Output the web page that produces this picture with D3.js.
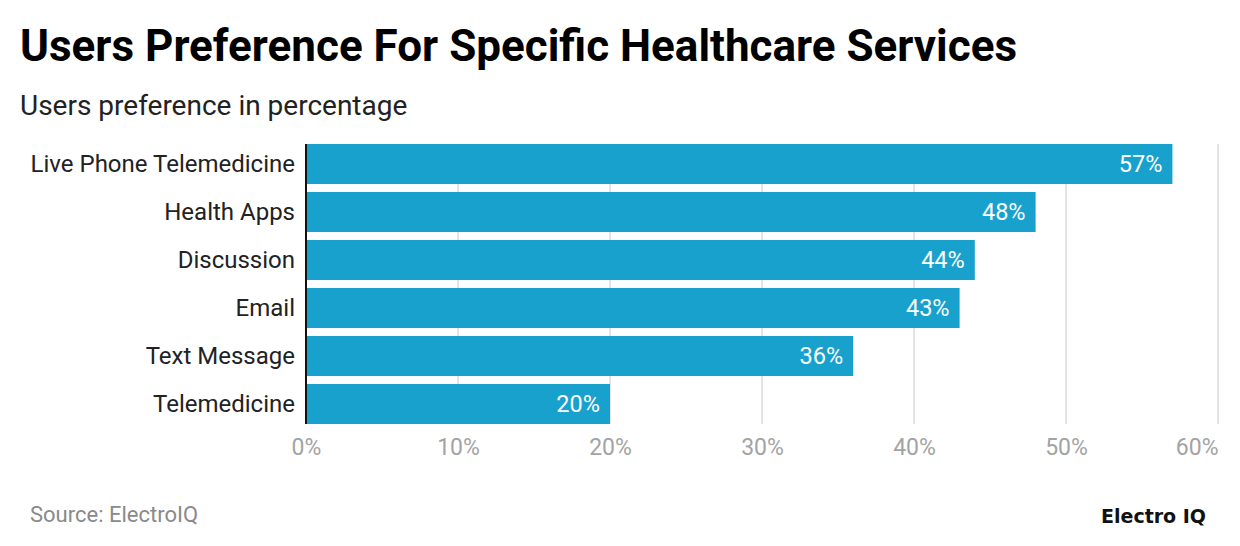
<!DOCTYPE html>
<html>
<head>
<meta charset="utf-8">
<script src="https://cdn.jsdelivr.net/npm/d3@7/dist/d3.min.js"></script>
<style>
  html, body { margin: 0; padding: 0; background: #fff; }
  svg { display: block; font-family: Roboto, "Noto Sans", sans-serif; }
</style>
</head>
<body>
<svg id="chart" width="1240" height="546"></svg>
<script>
// ── data ────────────────────────────────────────────────────────────────
var categories = ['Live Phone Telemedicine', 'Health Apps', 'Discussion',
                  'Email', 'Text Message', 'Telemedicine'];
var values     = [57, 48, 44, 43, 36, 20];
var ticks      = [0, 10, 20, 30, 40, 50, 60];

// ── geometry ────────────────────────────────────────────────────────────
var W = 1240, H = 546;
var plotL = 306, plotR = 1218;
var plotT = 140, plotB = 428;

var svg = d3.select('#chart');

var x = d3.scaleLinear().domain([0, 60]).range([plotL, plotR]);
var y = d3.scaleBand().domain(categories).range([plotT, plotB])
    .paddingInner(8 / 48).paddingOuter(4 / 48);

// title + subtitle
svg.append('text')
    .attr('x', 20).attr('y', 61)
    .attr('font-size', '44px').attr('font-weight', 'bold')
    .attr('fill', '#000')
    .text('Users Preference For Specific Healthcare Services');
svg.append('text')
    .attr('x', 20).attr('y', 115)
    .attr('font-size', '28px')
    .attr('fill', '#222')
    .text('Users preference in percentage');

// ── grid ────────────────────────────────────────────────────────────────
svg.append('g').selectAll('line')
    .data(ticks.filter(function (t) { return t > 0; }))
    .enter().append('line')
    .attr('x1', function (d) { return x(d); })
    .attr('x2', function (d) { return x(d); })
    .attr('y1', plotT + 4).attr('y2', plotB - 4)
    .attr('stroke', '#e3e3e3').attr('stroke-width', 2);

// ── bars ────────────────────────────────────────────────────────────────
svg.append('g').selectAll('rect')
    .data(values)
    .enter().append('rect')
    .attr('x', x(0))
    .attr('y', function (d, i) { return y(categories[i]); })
    .attr('width', function (d) { return x(d) - x(0); })
    .attr('height', y.bandwidth())
    .attr('fill', '#18a1cd');

// value labels
svg.append('g').selectAll('text')
    .data(values)
    .enter().append('text')
    .attr('x', function (d) { return x(d) - 10; })
    .attr('y', function (d, i) { return y(categories[i]) + y.bandwidth() / 2; })
    .attr('dy', '0.35em')
    .attr('text-anchor', 'end')
    .attr('font-size', '23.5px')
    .attr('fill', '#fff')
    .text(function (d) { return d + '%'; });

// baseline
svg.append('line')
    .attr('x1', x(0)).attr('x2', x(0))
    .attr('y1', plotT + 4).attr('y2', plotB - 4)
    .attr('stroke', '#111').attr('stroke-width', 2);

// ── axes ────────────────────────────────────────────────────────────────
var yAxis = svg.append('g')
    .attr('transform', 'translate(' + (plotL - 11) + ',0)')
    .call(d3.axisLeft(y).tickSize(0).tickPadding(0));
yAxis.select('.domain').remove();
yAxis.selectAll('text')
    .attr('font-size', '24px')
    .attr('font-family', 'Roboto, sans-serif')
    .attr('fill', '#222');

var xAxis = svg.append('g')
    .attr('transform', 'translate(0,' + 438 + ')')
    .call(d3.axisBottom(x).tickValues(ticks).tickSize(0).tickPadding(0)
        .tickFormat(function (d) { return d + '%'; }));
xAxis.select('.domain').remove();
xAxis.selectAll('text')
    .attr('dy', '0.75em')
    .attr('font-size', '23px')
    .attr('font-family', 'Roboto, sans-serif')
    .attr('fill', '#a3a3a3')
    .attr('text-anchor', function (d) { return d === ticks[ticks.length - 1] ? 'end' : 'middle'; });

// ── footer ──────────────────────────────────────────────────────────────
svg.append('text')
    .attr('x', 30).attr('y', 522)
    .attr('font-size', '22px')
    .attr('fill', '#8a8a8a')
    .text('Source: ElectroIQ');
svg.append('text')
    .attr('x', 1206).attr('y', 523)
    .attr('text-anchor', 'end')
    .attr('font-size', '19px').attr('font-weight', 'bold')
    .attr('font-family', '"DejaVu Sans", sans-serif')
    .attr('fill', '#111')
    .text('Electro IQ');
</script>
</body>
</html>
